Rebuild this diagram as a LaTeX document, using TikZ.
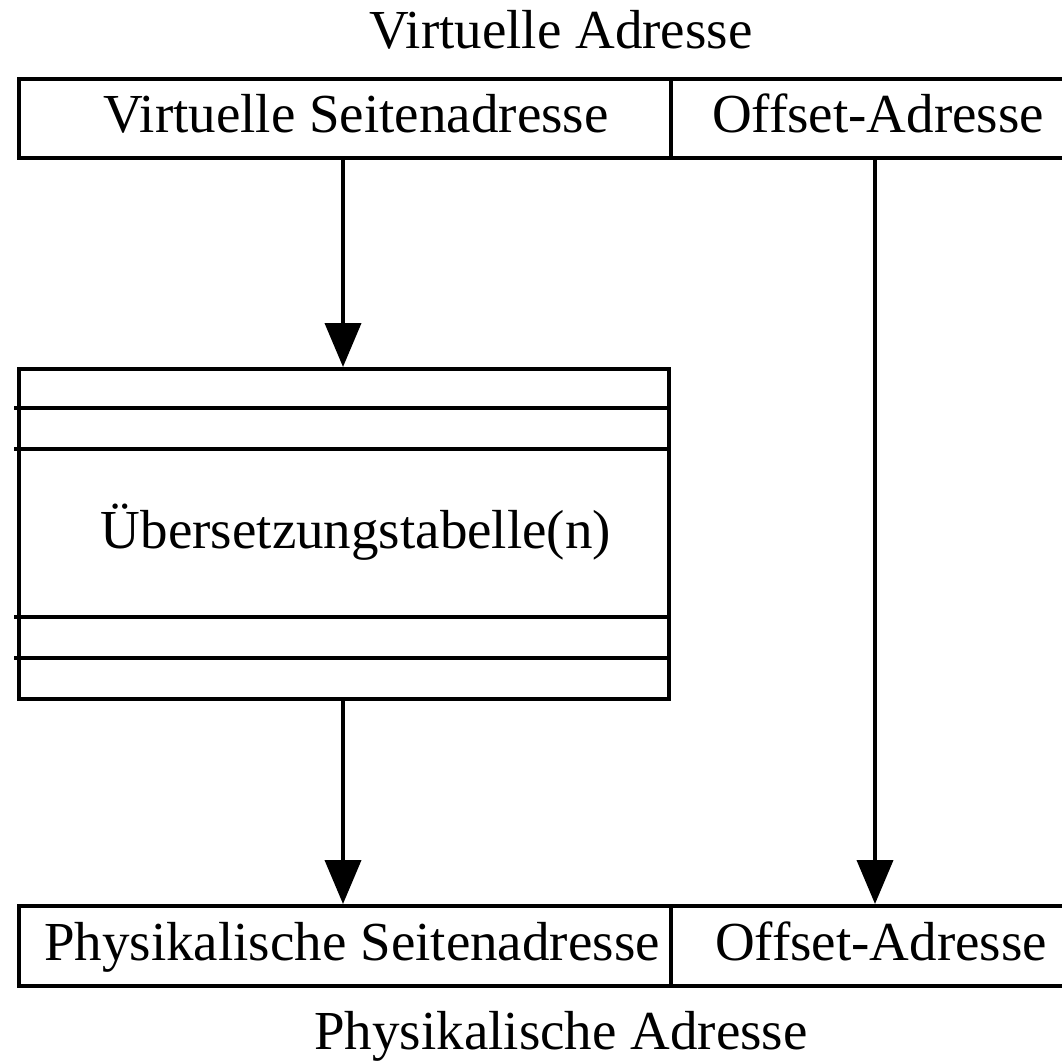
\documentclass[tikz,border=0pt]{standalone}
\usepackage{fontspec}
\setmainfont{Liberation Serif}
\usetikzlibrary{arrows.meta}
\begin{document}
\begin{tikzpicture}[x=1pt,y=-1pt,
  line width=4pt,
  lbl/.style={anchor=base,inner sep=0pt,font=\fontsize{55}{66}\selectfont},
  conn/.style={-{Triangle[width=36pt,length=44pt]},line width=4pt}]
\useasboundingbox (0,0) rectangle (1061,1064);
% top box
\draw (1080,79) -- (19,79) -- (19,158) -- (1080,158);
\draw (671,79) -- (671,158);
\node[lbl] (va) at (561,49) {Virtuelle Adresse};
\node[lbl] (vsa) at (356,133) {Virtuelle Seitenadresse};
\node[lbl] (voff) at (878,133) {Offset-Adresse};
% table
\draw (19,369) rectangle (669,699);
\foreach \yy in {408,449,617,658} \draw (14,\yy) -- (669,\yy);
\node[lbl] (tab) at (356,548) {Übersetzungstabelle(n)};
% bottom box
\draw (1080,906) -- (19,906) -- (19,986) -- (1080,986);
\draw (671,906) -- (671,986);
\node[lbl] (psa) at (352,960) {Physikalische Seitenadresse};
\node[lbl] (poff) at (881,960) {Offset-Adresse};
\node[lbl] (pa) at (561,1049) {Physikalische Adresse};
% connectors
\coordinate (a1) at (343,158);
\coordinate (a1e) at (343,367);
\coordinate (a2) at (343,699);
\coordinate (a2e) at (343,904);
\coordinate (b1) at (875,158);
\coordinate (b1e) at (875,904);
\draw[conn] (a1) -- (a1e);
\draw[conn] (a2) -- (a2e);
\draw[conn] (b1) -- (b1e);
\end{tikzpicture}
\end{document}
